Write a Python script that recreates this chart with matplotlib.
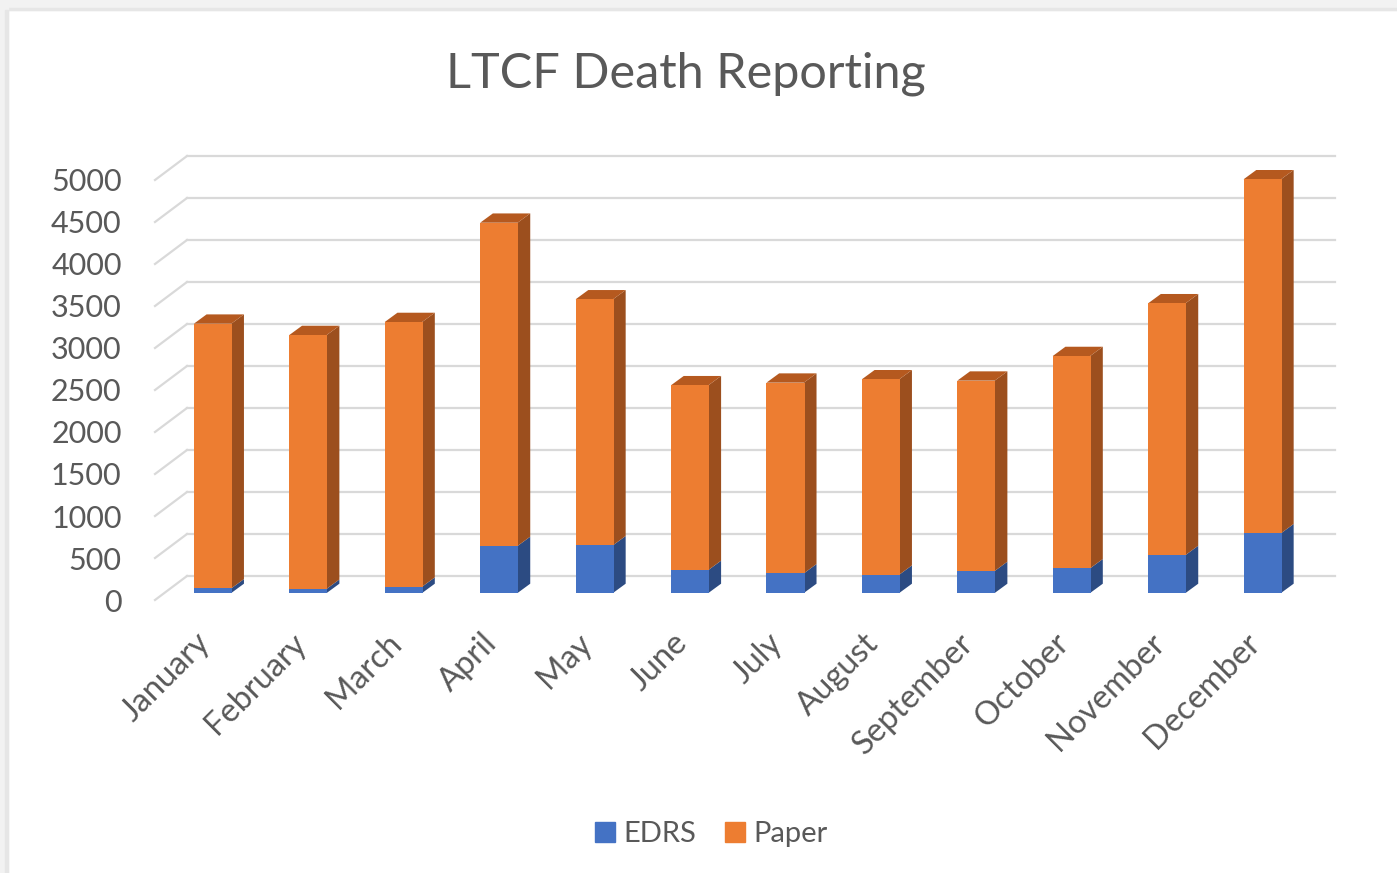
"""
LTCF death reporting - stacked 3D-look column chart
"""
import numpy as np
import matplotlib.pyplot as plt
from matplotlib.lines import Line2D
from matplotlib.patches import Polygon, Rectangle

months = ['January', 'February', 'March', 'April', 'May', 'June', 'July',
          'August', 'September', 'October', 'November', 'December']
edrs = [55, 50, 75, 560, 568, 274, 234, 218, 262, 294, 452, 711]
totals = [3206, 3071, 3226, 4408, 3496, 2473, 2504, 2544, 2528, 2821, 3449, 4925]
paper = [t - e for t, e in zip(totals, edrs)]
yticks = list(range(0, 5001, 500))

BLUE, BLUE_SIDE = '#4472C4', '#2C4B82'
ORANGE, ORANGE_SIDE, ORANGE_TOP = '#ED7D31', '#9C4F1E', '#B5591F'
GRID = '#D9D9D9'
TEXT = '#595959'

plt.rcParams['font.family'] = ['Lato', 'DejaVu Sans']

W, H = 1397, 873
fig = plt.figure(figsize=(W / 100, H / 100), dpi=100)

# screenshot frame strips
fig.patches.append(Rectangle((0, 1 - 10 / H), 1, 10 / H, transform=fig.transFigure,
                             color='#F2F2F2', zorder=0))
fig.patches.append(Rectangle((0, 1 - 10 / H), 1, 2 / H, transform=fig.transFigure,
                             color='#E6E6E6', zorder=0))
fig.patches.append(Rectangle((0, 0), 8 / W, 1, transform=fig.transFigure,
                             color='#F2F2F2', zorder=0))
fig.patches.append(Rectangle((5 / W, 0), 3 / W, 1 - 10 / H, transform=fig.transFigure,
                             color='#E6E6E6', zorder=0))

# front plane of the floor: x pixels 155..1303, y pixels 600 (0) .. 180 (5000)
ax = fig.add_axes([155 / W, 1 - 600 / H, 1148 / W, 420 / H])
ax.set_xlim(-0.51, 11.52)
ax.set_ylim(0, 5000)
for s in ax.spines.values():
    s.set_visible(False)


def px(dx, dy):
    """pixel offset -> data offset"""
    inv = ax.transData.inverted()
    x0, y0 = inv.transform((0, 0))
    x1, y1 = inv.transform((dx, dy))
    return x1 - x0, y1 - y0


fx, fy = px(9.3, 7)     # bar face plane
dx, dy = px(12.7, 9.3)  # bar depth
wx, wy = px(32, 24)     # back wall
seam = px(0.8, 0)[0]

x0, x1 = ax.get_xlim()
for v in yticks:
    ax.plot([x0, x0 + wx], [v, v + wy], color=GRID, lw=1.6, clip_on=False, zorder=0)
    ax.plot([x0 + wx, x1 + wx], [v + wy, v + wy], color=GRID, lw=1.6,
            clip_on=False, zorder=0)

xs = np.arange(len(months)) + fx
bw = 0.4
base = np.full(len(months), fy)

for x, e, t in zip(xs, edrs, totals):
    xl, xr = x - bw / 2, x + bw / 2 - seam
    for y_lo, y_hi, c in [(fy, fy + e, BLUE_SIDE), (fy + e, fy + t, ORANGE_SIDE)]:
        ax.add_patch(Polygon([(xr, y_lo), (xr + dx, y_lo + dy), (xr + dx, y_hi + dy),
                              (xr, y_hi)], closed=True, color=c, lw=0,
                             zorder=2, clip_on=False))
    top = fy + t
    ax.add_patch(Polygon([(xl, top), (xl + dx, top + dy), (xr + dx, top + dy),
                          (xr, top)], closed=True, color=ORANGE_TOP, lw=0,
                         zorder=2, clip_on=False))

ax.bar(xs, edrs, width=bw, bottom=base, color=BLUE, zorder=3, clip_on=False)
ax.bar(xs, paper, width=bw, bottom=base + np.array(edrs), color=ORANGE,
       zorder=3, clip_on=False)

ax.set_yticks(yticks)
ax.set_yticklabels([str(v) for v in yticks])
ax.set_xticks(xs - px(18, 0)[0])
ax.set_xticklabels(months)
ax.tick_params(axis='y', length=0, pad=24, labelsize=22, labelcolor=TEXT)
ax.tick_params(axis='x', length=0, pad=20, labelsize=23.5, labelcolor=TEXT)
for lab in ax.get_xticklabels():
    lab.set_rotation(45)
    lab.set_ha('right')
    lab.set_rotation_mode('anchor')

fig.text(685.5 / W, 1 - 88 / H, 'LTCF Death Reporting', ha='center', va='baseline',
         fontsize=35, color=TEXT)

handles = [Line2D([], [], marker='s', ls='none', markersize=14, color=BLUE),
           Line2D([], [], marker='s', ls='none', markersize=14, color=ORANGE)]
fig.legend(handles, ['EDRS', 'Paper'], loc='center', ncol=2, frameon=False,
           bbox_to_anchor=(709 / W, 1 - 834 / H), fontsize=21, labelcolor=TEXT,
           handletextpad=0.15, columnspacing=0.8, handlelength=1.0)

fig.savefig('out.png', dpi=100)
